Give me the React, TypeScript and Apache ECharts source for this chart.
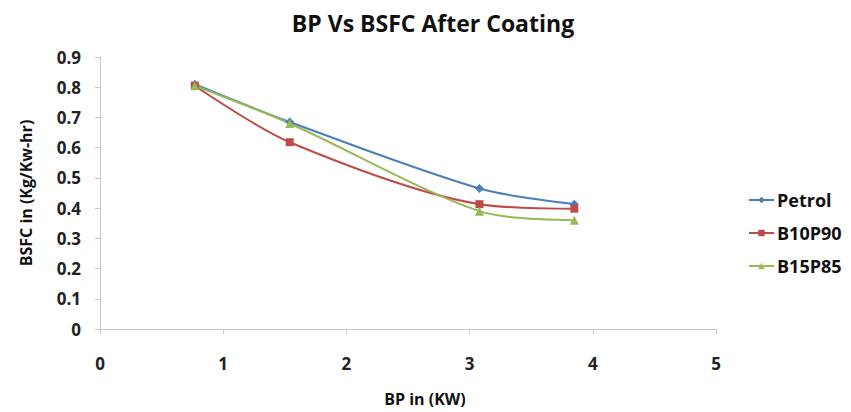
import React, { useEffect, useRef } from "react";
import * as echarts from "echarts";

const bpValues = [0.77, 1.54, 3.08, 3.85];
const petrol = [0.81, 0.685, 0.465, 0.413];
const b10p90 = [0.805, 0.618, 0.413, 0.398];
const b15p85 = [0.805, 0.68, 0.39, 0.36];
const seriesNames = ["Petrol", "B10P90", "B15P85"];
const colors = ["#4A7EBB", "#BE4B48", "#98B954"];
const symbols = ["diamond", "rect", "triangle"];

export default function App() {
  const ref = useRef<HTMLDivElement>(null);
  useEffect(() => {
    const chart = echarts.init(ref.current!, null, { renderer: "svg" });
    const font = "'Open Sans', 'DejaVu Sans', sans-serif";
    const data = [petrol, b10p90, b15p85];
    chart.setOption({
      animation: false,
      backgroundColor: "#fff",
      textStyle: { fontFamily: font },
      title: {
        text: "BP Vs BSFC After Coating",
        left: 428,
        top: 6,
        textAlign: "center",
        textStyle: { fontFamily: font, fontWeight: "bold", fontSize: 23, color: "#111" },
      },
      legend: {
        orient: "vertical",
        left: 743,
        top: 186,
        itemGap: 15,
        itemWidth: 25,
        itemHeight: 8,
        textStyle: { fontFamily: font, fontWeight: "bold", fontSize: 18, color: "#111", padding: [0, 0, 0, -2] },
        data: seriesNames,
      },
      grid: { left: 100, right: 135, top: 57, bottom: 83, containLabel: false },
      xAxis: {
        type: "value",
        min: 0,
        max: 5,
        interval: 1,
        name: "BP in (KW)",
        nameLocation: "middle",
        nameGap: 62,
        nameTextStyle: {
          fontFamily: font,
          fontWeight: "bold",
          fontSize: 16,
          color: "#111",
          padding: [0, 0, 0, 34],
        },
        axisLine: { show: true, lineStyle: { color: "#c8c8c8" } },
        axisTick: { show: true, length: 5, lineStyle: { color: "#c8c8c8" } },
        axisLabel: { fontFamily: font, fontWeight: "bold", fontSize: 17, color: "#222", margin: 26 },
        splitLine: { show: false },
      },
      yAxis: {
        type: "value",
        min: 0,
        max: 0.9,
        interval: 0.1,
        name: "BSFC in (Kg/Kw-hr)",
        nameLocation: "middle",
        nameGap: 66,
        nameRotate: 90,
        nameTextStyle: { fontFamily: font, fontWeight: "bold", fontSize: 16, color: "#111" },
        axisLine: { show: true, lineStyle: { color: "#c8c8c8" } },
        axisTick: { show: true, length: 5, lineStyle: { color: "#c8c8c8" } },
        axisLabel: {
          fontFamily: font,
          fontWeight: "bold",
          fontSize: 17,
          color: "#222",
          margin: 19,
          formatter: (v: number) => (Math.round(v * 10) / 10).toString(),
        },
        splitLine: { show: false },
      },
      series: seriesNames.map((name, i) => ({
        name,
        type: "line",
        smooth: 0.3,
        symbol: symbols[i],
        symbolSize: i === 1 ? 8 : 9,
        data: bpValues.map((x, j) => [x, data[i][j]]),
        itemStyle: { color: colors[i] },
        lineStyle: { color: colors[i], width: 2 },
      })),
    });
    return () => chart.dispose();
  }, []);
  return <div ref={ref} style={{ width: 851, height: 412, position: "absolute", left: 0, top: 0 }} />;
}
